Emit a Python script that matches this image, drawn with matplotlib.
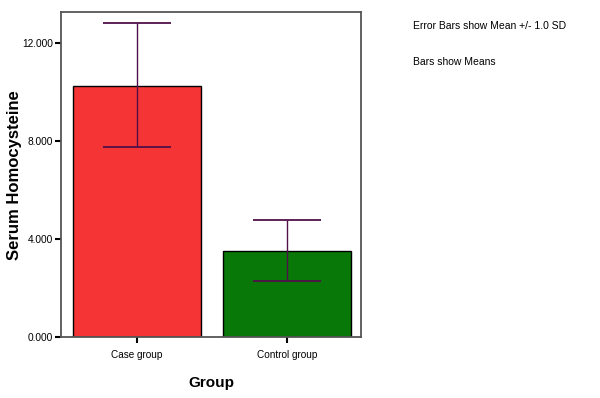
import matplotlib.pyplot as plt
from matplotlib.ticker import FormatStrFormatter

plt.rcParams['font.family'] = ['Liberation Sans', 'DejaVu Sans']

# ===== Data =====
groups = ['Case group', 'Control group']
means = [10.27, 3.53]
err_lo = [7.76, 2.31]
err_hi = [12.82, 4.79]
bar_colors = ['#f53535', '#087808']
yticks = [0, 4, 8, 12]

fig = plt.figure(figsize=(6, 3.98), dpi=100)
ax = fig.add_axes([0.1017, 0.1525, 0.5, 0.8173])

x = list(range(len(groups)))
yerr = [[m - lo for m, lo in zip(means, err_lo)],
        [hi - m for m, hi in zip(means, err_hi)]]

ax.bar(x, means, width=0.853, color=bar_colors, edgecolor='black', linewidth=1.0, zorder=2)
ax.errorbar(x, means, yerr=yerr, fmt='none', ecolor='#50104a', elinewidth=1.0,
            capsize=24.5, capthick=1.3, zorder=3)

ax.set_xlim(-0.507, 1.493)
ax.set_ylim(0, 13.28)
ax.set_xticks(x)
ax.set_xticklabels(groups, fontsize=7.2)
ax.set_yticks(yticks)
ax.yaxis.set_major_formatter(FormatStrFormatter('%.3f'))
ax.tick_params(axis='y', labelsize=7.3, length=4, width=1.5, direction='out', pad=2)
ax.tick_params(axis='x', length=4, width=1.5, direction='out', pad=5)

for s in ax.spines.values():
    s.set_color('#555555')
    s.set_linewidth(1.3)

ax.set_ylabel('Serum Homocysteine', fontsize=12, fontweight='bold', labelpad=0)
ax.set_xlabel('Group', fontsize=11, fontweight='bold', labelpad=12)

fig.text(0.688, 0.935, 'Error Bars show Mean +/- 1.0 SD', fontsize=7.5, va='center')
fig.text(0.688, 0.845, 'Bars show Means', fontsize=7.5, va='center')

fig.savefig('out.png', dpi=100)
